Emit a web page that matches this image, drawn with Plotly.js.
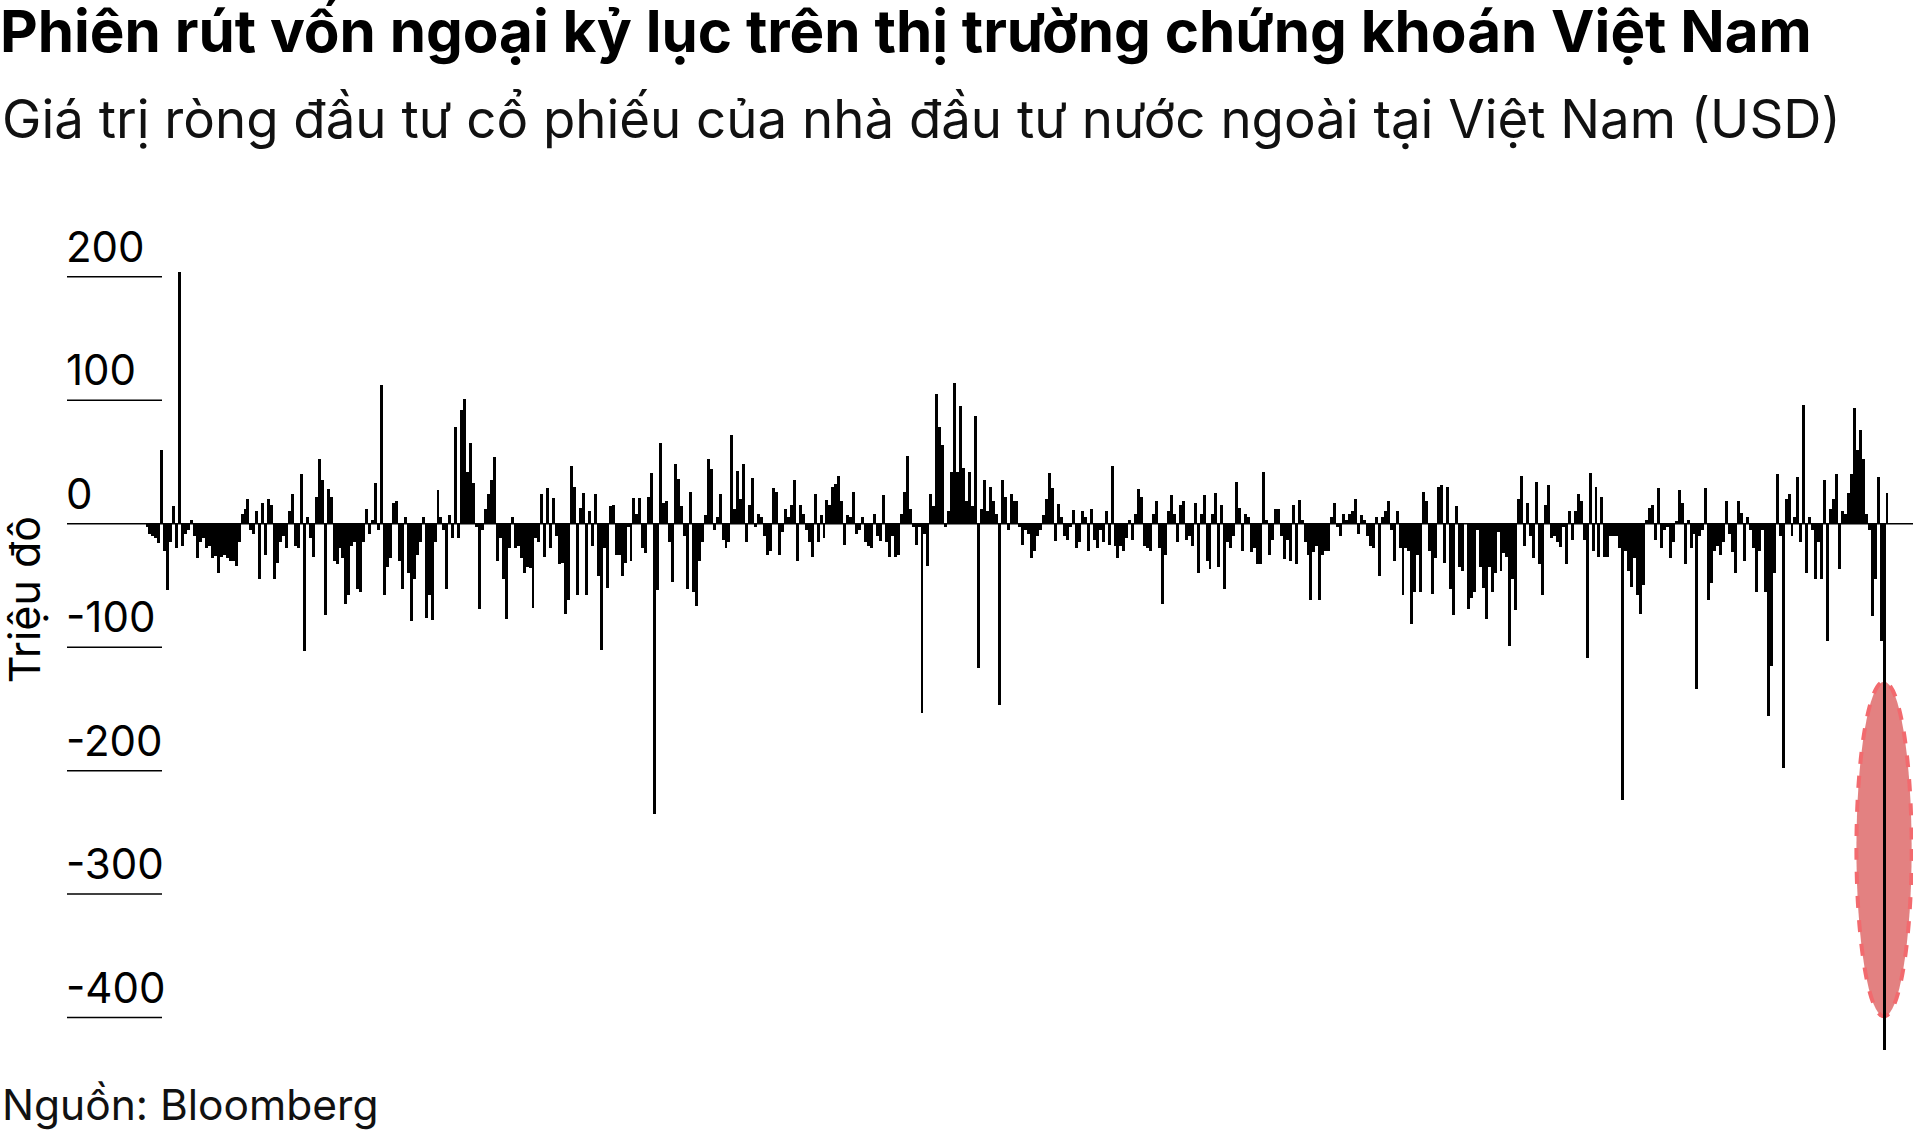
<!DOCTYPE html>
<html>
<head>
<meta charset="utf-8">
<script src="https://cdn.plot.ly/plotly-3.0.1.min.js"></script>
<style>
  html, body { margin: 0; padding: 0; background: #fff; }
  #chart { width: 1920px; height: 1133px; }
</style>
</head>
<body>
<div id="chart"></div>
<script>
// Daily net foreign equity flows (million USD), read left to right from the reference, in segments
const seg1 = [-3, -8, -10, -12, -16, 60, -22, -54, -15, 14, -20, 204, -18, -8, -5, 3, -10, -28, -15, -12, -20, -18, -28, -26, -40, -27, -25, -28, -30, -30, -34, -15, 8, 12, 20, -5, -8, 10, -45, 17, -25, 20, 15, -45, -32, -15, -10, -20, 10, 24, -18];
const seg2 = [-20, 40, -103, 5, -12, -27, 22, 52, 35, -74, 28, 22, -30, -33, -20, -28, -65, -58, -18, -15, -53, -55, -15, 12, -8, 3, 33, -5, 112, -58, -35, -28, 17, 18, -30, -53, 5, -40, -79, -45, -25, -15, 5, -76, -58, -78, -15, 27, 5, -5, -53, 7, -12, 78];
const seg3 = [-12, 92, 101, 42, 65, 33, -3, -69, -5, 12, 24, 35, 54, -30, -12, -45, -77, -20, 5, -20, -18, -28, -40, -35, -36, -68, -12, -15, 24, -27, 29, -20, 21, -10, -33, -32, -73, -62, 47, 30, -58, 13, 25, -58, 10, -18, 24, -42, -102, -20, -52, 14, 15, -25];
const seg4 = [-25, -42, -32, -3, -30, 21, 8, 21, -20, -24, 22, 41, -235, -54, 65, 17, 18, -15, -47, 48, 36, 14, -10, -53, 26, -55, -67, -30, -15, 7, 52, 44, -5, 5, 24, -13, -20, -15, 72, 12, 43, 20, 48, -15, 15, 37, -3, 8, 5, -10, -25, -22, 29, 26];
const seg5 = [-25, -7, 12, 5, 15, 35, -30, 15, 8, -5, -15, -27, 24, -15, 7, -12, 19, 15, 30, 32, 39, 18, -17, 7, 5, 26, -8, -5, 5, -15, -18, -20, 8, -10, -14, 23, -15, -27, -10, -27, -25, 8, 26, 55, 12, -3, -17, -3, -153, -8, -34, 24, 14, 105];
const seg6 = [78, 64, -3, 10, 42, 114, 42, 95, 45, 18, 42, 14, 87, -117, 12, 35, 10, 30, 18, 8, -147, 35, 22, -5, 24, 18, 18, -3, -17, -5, -8, -28, -22, -10, -5, 7, 20, 41, 29, -14, 16, 5, -10, -13, -3, 11, -20, -15, 10, 5, -22, 12, -13, -20];
const seg7 = [-5, -15, 10, -17, 47, -18, -28, -18, -22, -12, 3, -13, 8, 28, 22, -18, -20, -22, 8, 18, -20, -65, -25, 10, 23, 8, -15, 15, 18, -13, -10, -18, 17, -40, 8, 23, -30, -37, 8, 25, -35, 15, -53, -15, -20, -10, 34, 13, -22, 8, 5, -23, -20, -33];
const seg8 = [-33, 42, 3, -25, -13, 12, 12, -10, -29, -13, -30, 15, -33, 19, 3, -15, -25, -62, -23, -18, -62, -25, -22, -22, 5, 17, -3, -10, 8, 3, 8, 10, 20, -8, 7, 3, -10, -18, -20, 5, -42, 5, 10, 18, -5, -30, 10, -20, -58, -20, -22, -81, -55, -25];
const seg9 = [-55, 26, 18, -22, -57, -28, 30, 31, -32, 30, -53, -74, 14, -35, -38, 0, -69, -60, -55, -5, -35, -52, -77, -35, -55, -40, -7, -38, -24, -27, -99, -45, -70, 20, 39, -18, 17, -10, -28, 34, -33, -58, 15, 31, -12, -10, -15, -19, -3, -33, 10, -13, 10, 24];
const seg10 = [18, -13, -109, 41, -22, 30, -27, 22, -27, -27, -10, -10, -10, -20, -224, -22, -38, -51, -28, -58, -73, -50, 3, 13, 15, -13, 29, -20, -5, -3, -28, -15, 2, 27, 17, -33, 3, -20, -8, -134, -10, -5, 29, -62, -48, -22, -18, -25, -15, 18, -8, -23, -40, 18];
const seg11 = [9, -30, 5, -5, -20, -55, -22, -5, -55, -156, -115, -40, 40, -10, -198, 20, 24, -10, 5, 38, -15, 96, -40, 5, -5, -45, -15, -45, 35, -95, 12, 20, 40, -37, 10, 8, 25, 40, 94, 60, 76, 52, 8, -5, -75, -45, 38, -95, -426, 25];

const tickValues = [200, 100, 0, -100, -200, -300, -400];
const tickLabels = ['200', '100', '0', '-100', '-200', '-300', '-400'];

const titleText = 'Phiên rút vốn ngoại kỷ lục trên thị trường chứng khoán Việt Nam';
const subtitleText = 'Giá trị ròng đầu tư cổ phiếu của nhà đầu tư nước ngoài tại Việt Nam (USD)';
const yTitleText = 'Triệu đô';
const sourceText = 'Nguồn: Bloomberg';

const netFlows = [].concat(seg1, seg2, seg3, seg4, seg5, seg6, seg7, seg8, seg9, seg10, seg11);
const dayIndex = netFlows.map((_, i) => i);

// record session = most negative value
let recIdx = 0;
netFlows.forEach((v, i) => { if (v < netFlows[recIdx]) recIdx = i; });

const FONT = 'Inter, "Noto Sans", "DejaVu Sans", sans-serif';
const W = 1920, H = 1133;
const mL = 67, mR = 7, mT = 252, mB = 66;
const plotW = W - mL - mR, plotH = H - mT - mB;
const tickLineEnd = (162 - mL) / plotW;

const shapes = [];
const annotations = [];

tickValues.forEach((v, k) => {
  shapes.push({
    type: 'line', xref: 'paper', yref: 'y',
    x0: 0, x1: v === 0 ? 1 : tickLineEnd, y0: v, y1: v,
    line: { color: '#000', width: 1.5 }, layer: 'above'
  });
  annotations.push({
    xref: 'paper', yref: 'y', x: 0, y: v, xanchor: 'left', yanchor: 'bottom',
    xshift: -3, yshift: 3, showarrow: false, text: tickLabels[k],
    font: { family: FONT, size: 42, color: '#000' }
  });
});

// red dashed ellipse highlighting the record session
shapes.push({
  type: 'circle', xref: 'x', yref: 'y', layer: 'below',
  x0: recIdx - 9.3, x1: recIdx + 9.3, y0: -399, y1: -128,
  fillcolor: 'rgba(226,122,122,0.95)',
  line: { color: '#f26a6e', width: 4, dash: 'dash' }
});

annotations.push({
  xref: 'paper', yref: 'y', x: (24 - mL) / plotW, y: -62, xanchor: 'center', yanchor: 'middle',
  textangle: -90, showarrow: false, text: yTitleText,
  font: { family: FONT, size: 43, color: '#000' }
});
annotations.push({
  xref: 'paper', yref: 'paper', x: -mL / plotW, y: 1 + (252 - 153) / plotH, xanchor: 'left', yanchor: 'bottom',
  showarrow: false, text: subtitleText,
  font: { family: FONT, size: 52.8, color: '#111' }
});
annotations.push({
  xref: 'paper', yref: 'paper', x: -mL / plotW, y: (mT + plotH - 1104) / plotH, xanchor: 'left', yanchor: 'middle',
  showarrow: false, text: sourceText,
  font: { family: FONT, size: 42.5, color: '#111' }
});

const xPerBar = (1887 - 147) / (netFlows.length - 1);
const xr0 = (mL - 147) / xPerBar;
const xr1 = (W - mR - 147) / xPerBar;

const data = [{
  type: 'bar', x: dayIndex, y: netFlows,
  marker: { color: '#000', line: { width: 0 } },
  hoverinfo: 'skip'
}];

const layout = {
  width: W, height: H,
  margin: { l: mL, r: mR, t: mT, b: mB, pad: 0 },
  paper_bgcolor: '#fff', plot_bgcolor: 'rgba(0,0,0,0)',
  showlegend: false,
  bargap: 0,
  title: {
    text: '<b>' + titleText + '</b>',
    x: 0, xref: 'container', xanchor: 'left',
    y: 0.99, yref: 'container', yanchor: 'top',
    pad: { t: 0, l: 0 },
    font: { family: FONT, size: 58.3, color: '#000', weight: 900 }
  },
  xaxis: { visible: false, range: [xr0, xr1], fixedrange: true },
  yaxis: { visible: false, range: [-440, 220], fixedrange: true },
  shapes: shapes,
  annotations: annotations
};

Plotly.newPlot('chart', data, layout, { staticPlot: true, displayModeBar: false });
</script>
</body>
</html>
